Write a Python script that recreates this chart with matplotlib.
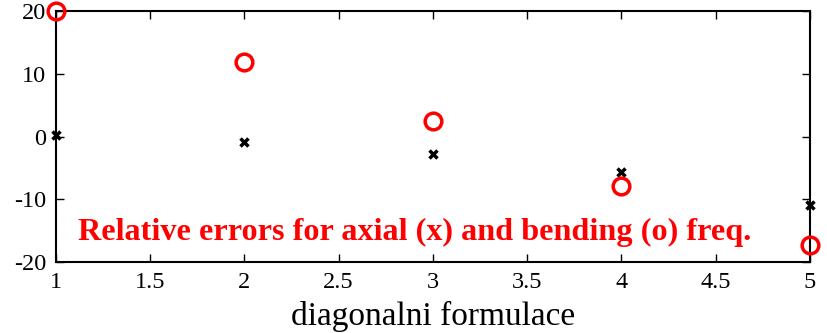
import matplotlib.pyplot as plt

# values
n = [1, 2, 3, 4, 5]
axial = [0.2, -0.9, -2.8, -5.7, -10.9]
bending = [20.0, 11.9, 2.5, -7.9, -17.3]
xticks = [1, 1.5, 2, 2.5, 3, 3.5, 4, 4.5, 5]
yticks = [-20, -10, 0, 10, 20]

plt.rcParams['font.family'] = ['Liberation Serif', 'DejaVu Serif']
plt.rcParams['axes.unicode_minus'] = False

fig = plt.figure(figsize=(8.28, 3.33), dpi=100)
ax = fig.add_axes([0.0676, 0.213, 0.9104, 0.754])

ax.plot(n, axial, 'x', color='black', ms=6, mew=2.5, clip_on=False, zorder=3)
ax.plot(n, bending, 'o', color='red', mfc='none', ms=12, mew=2.5, clip_on=False, zorder=3)

ax.set_xlim(1, 5)
ax.set_ylim(-20, 20)
ax.set_xticks(xticks)
ax.set_xticklabels(['1', '1.5', '2', '2.5', '3', '3.5', '4', '4.5', '5'])
ax.set_yticks(yticks)
ax.tick_params(direction='in', top=True, right=True, labelsize=17.5, length=6, width=1, pad=7)
for s in ax.spines.values():
    s.set_linewidth(1.5)

ax.set_xlabel('diagonalni formulace', fontsize=24, va='baseline')
ax.xaxis.set_label_coords(0.5, -0.25)
ax.text(1.117, -15.3, 'Relative errors for axial (x) and bending (o) freq.',
        color='red', fontsize=23.2, fontweight='bold', va='center', ha='left')

fig.savefig('out.png', dpi=100)
